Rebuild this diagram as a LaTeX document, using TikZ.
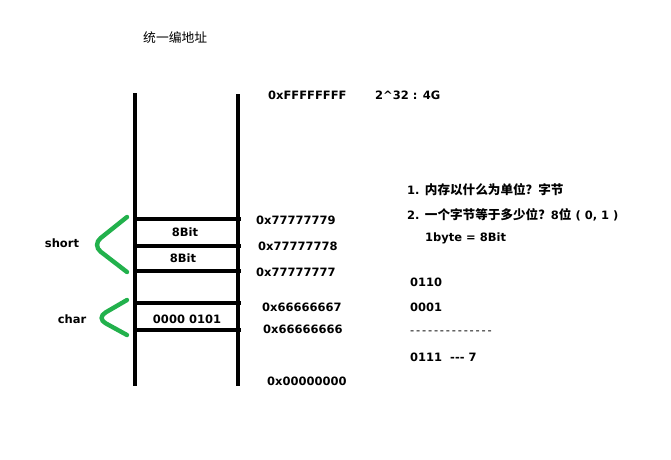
\documentclass[tikz,border=0pt]{standalone}
\usepackage{fontspec}
\setmainfont{DejaVu Sans}
\newfontfamily\cjk{Noto Sans CJK SC}
\newcommand{\zh}[1]{{\cjk\bfseries\fontsize{12.6pt}{14pt}\selectfont #1}}
\newcommand{\dsh}{-\kern1.8pt}
\definecolor{mgreen}{RGB}{34,177,76}
\begin{document}
\begin{tikzpicture}[x=1pt,y=-1pt,
  wall/.style={line width=4pt,black},
  cell/.style={line width=3.6pt,black},
  brace/.style={line width=4.4pt,mgreen,line cap=round,rounded corners=11pt},
  lbl/.style={inner sep=0pt,anchor=west,font=\bfseries\fontsize{11.5pt}{13pt}\selectfont},
  clbl/.style={inner sep=0pt,font=\bfseries\fontsize{11.5pt}{13pt}\selectfont}]
\useasboundingbox (0,0) rectangle (671,459);
% columns
\coordinate (lt) at (135,93);
\coordinate (lb) at (135,386);
\coordinate (rt) at (238,94);
\coordinate (rb) at (238,386);
\draw[wall] (lt) -- (lb);
\draw[wall] (rt) -- (rb);
% cells
\foreach \n/\y in {a/219,b/246,c/271,d/303,e/330}{
  \coordinate (\n l) at (135,\y);
  \coordinate (\n r) at (241,\y);
  \draw[cell] (\n l) -- (\n r);
}
% braces
\coordinate (s1) at (127,217);
\coordinate (s2) at (92,245);
\coordinate (s3) at (127,272);
\draw[brace] (s1) -- (s2) -- (s3);
\coordinate (c1) at (127,300);
\coordinate (c2) at (96,318);
\coordinate (c3) at (127,335);
\draw[brace] (c1) -- (c2) -- (c3);
% title
\node[inner sep=0pt,anchor=west,font=\cjk\fontsize{12.8pt}{14pt}\selectfont] (title) at (143,38) {统一编地址};
% addresses
\node[lbl] (aF) at (268,95) {0xFFFFFFFF};
\node[lbl] (p32) at (375,95) {2\^{}32 : 4G};
\node[lbl] (a79) at (256,220) {0x77777779};
\node[lbl] (a78) at (258,246) {0x77777778};
\node[lbl] (a77) at (256,272) {0x77777777};
\node[lbl] (a67) at (262,307) {0x66666667};
\node[lbl] (a66) at (263,329) {0x66666666};
\node[lbl] (a00) at (267,381) {0x00000000};
% cell contents
\node[clbl] (b1) at (185,232) {8Bit};
\node[clbl] (b2) at (183,258) {8Bit};
\node[clbl] (v) at (187,319) {0000 0101};
\node[clbl] (short) at (62,243) {short};
\node[clbl] (char) at (72,319) {char};
% notes
\node[lbl] (q1) at (407,190) {1. \zh{内存以什么为单位？}\zh{字节}};
\node[lbl] (q2) at (407,215) {2. \zh{一个字节等于多少位？}8\zh{位} ( 0, 1 )};
\node[lbl] (q3) at (425,238) {1byte = 8Bit};
\node[lbl] (n1) at (410,282) {0110};
\node[lbl] (n2) at (410,307) {0001};
\node[lbl,font=\fontsize{11.5pt}{13pt}\selectfont] (n3) at (410,333) {\dsh\dsh\dsh\dsh\dsh\dsh\dsh\dsh\dsh\dsh\dsh\dsh\dsh-};
\node[lbl] (n4) at (410,357) {0111\ \ -{}-{}- 7};
\end{tikzpicture}
\end{document}
